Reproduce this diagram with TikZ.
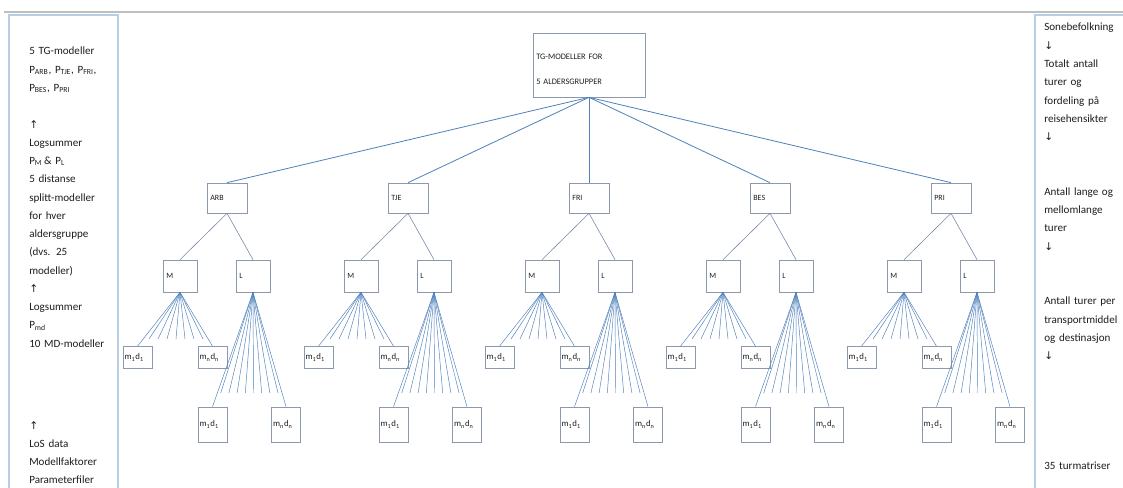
\documentclass[tikz,border=0pt]{standalone}
\usepackage{fontspec}
\setmainfont{Carlito}
\newfontfamily\arrfont{DejaVu Sans}
\definecolor{boxc}{RGB}{140,152,172}
\definecolor{topc}{RGB}{79,129,189}
\definecolor{midc}{RGB}{120,140,170}
\definecolor{fanc}{RGB}{79,129,189}
\definecolor{panelc}{RGB}{185,205,229}
\definecolor{hlinec}{RGB}{190,190,190}
\definecolor{txt}{RGB}{30,30,30}
\tikzset{
  box/.style={draw=boxc, line width=0.5pt, fill=white, inner xsep=2.5pt, inner ysep=0pt,
    align=left, font=\fontsize{6}{7}\selectfont, text=txt},
  lvlbox/.style={box, minimum width=30pt, text width=25pt, minimum height=22.5pt},
  mlbox/.style={box, minimum width=25.5pt, text width=20.5pt, minimum height=24pt},
  leafm/.style={box, inner xsep=1.2pt, font=\fontsize{6.6}{7}\selectfont, minimum width=21.75pt, text width=19.35pt, minimum height=16.5pt},
  leafl/.style={box, inner xsep=1.2pt, font=\fontsize{6.6}{7}\selectfont, minimum width=21.75pt, text width=19.35pt, minimum height=26.25pt},
  topconn/.style={draw=topc, line width=0.6pt},
  midconn/.style={draw=midc, line width=0.45pt},
  fan/.style={draw=fanc, line width=0.35pt},
  panel/.style={draw=panelc, line width=1.3pt},
  paneltext/.style={inner sep=0pt, anchor=base west, align=left, text=txt,
    font=\fontsize{8.3}{13.7}\selectfont},
}
\newcommand{\upar}{{\arrfont\fontsize{8}{13.7}\selectfont ↑}}
\newcommand{\dnar}{{\arrfont\fontsize{8}{13.7}\selectfont ↓}}
\begin{document}
\begin{tikzpicture}[x=0.75pt,y=-0.75pt]
\useasboundingbox (0,0) rectangle (1123,488);
\fill[white] (0,0) rectangle (1123,488);
% top gray line and side panels
\coordinate (hl1) at (4,12);
\coordinate (hl2) at (1123,12);
\draw[draw=hlinec, line width=1.2pt] (hl1) -- (hl2);
\coordinate (lp1) at (9,500);
\coordinate (lp2) at (9,15);
\coordinate (lp3) at (118,15);
\coordinate (lp4) at (118,500);
\draw[panel] (lp1) -- (lp2) -- (lp3) -- (lp4);
\coordinate (rp1) at (1035,500);
\coordinate (rp2) at (1035,15);
\coordinate (rp3) at (1130,15);
\draw[panel] (rp1) -- (rp2) -- (rp3);
% left panel text
\node[paneltext, text width=70pt] (ltxt1) at (29,55) {5 TG-modeller\\
P\textsubscript{ARB}, P\textsubscript{TJE}, P\textsubscript{FRI},\\
P\textsubscript{BES}, P\textsubscript{PRI}\\
~\\
\upar\\
Logsummer\\
P\textsubscript{M}\,\& P\textsubscript{L}\\
5 distanse\\
splitt-modeller\\
for hver\\
aldersgruppe\\
(dvs. 25\\
modeller)\\
\upar\\
Logsummer\\
P\textsubscript{md}\\
10 MD-modeller};
\node[paneltext, text width=70pt] (ltxt2) at (29,429) {\upar\\
LoS data\\
Modellfaktorer\\
Parameterfiler};
% right panel text
\node[paneltext, text width=75pt] (rtxt) at (1044,31) {Sonebefolkning\\
\dnar\\
Totalt antall\\
turer og\\
fordeling på\\
reisehensikter\\
\dnar\\
~\\
~\\
Antall lange og\\
mellomlange\\
turer\\
\dnar\\
~\\
~\\
Antall turer per\\
transportmiddel\\
og destinasjon\\
\dnar\\
~\\
~\\
~\\
~\\
~\\
35 turmatriser};
% top box
\node[box, font=\fontsize{6.3}{18.75}\selectfont, minimum width=84pt, text width=79pt, minimum height=48pt] (top) at (589,65)
  {\rule{0pt}{10pt}TG-MODELLER FOR\\5 ALDERSGRUPPER};
% groups
\foreach \k/\lab in {0/ARB,1/TJE,2/FRI,3/BES,4/PRI}{
  \pgfmathsetmacro{\dx}{181*\k}
  \node[lvlbox] (a\k) at ({227+\dx},198) {\lab};
  \node[mlbox] (m\k) at ({180+\dx},276) {M};
  \node[mlbox] (l\k) at ({253+\dx},276) {L};
  \node[leafm] (ma\k) at ({137.5+\dx},357.5) {m\textsubscript{1}d\textsubscript{1}};
  \node[leafm] (mb\k) at ({212.5+\dx},357.5) {m\textsubscript{n}d\textsubscript{n}};
  \node[leafl] (la\k) at ({212.5+\dx},424.5) {m\textsubscript{1}d\textsubscript{1}};
  \node[leafl] (lb\k) at ({286+\dx},424.5) {m\textsubscript{n}d\textsubscript{n}};
  \draw[topconn] (top.south) -- (a\k.north);
  \draw[midconn] (a\k.south) -- (m\k.north);
  \draw[midconn] (a\k.south) -- (l\k.north);
  \draw[fan] (m\k.south) -- (ma\k.north);
  \draw[fan] (m\k.south) -- (mb\k.north);
  \foreach \j in {1,...,7}{
    \coordinate (mf\k-\j) at ({140+\dx+9*\j},339);
    \draw[fan] (m\k.south) -- (mf\k-\j);
  }
  \draw[fan] (l\k.south) -- (la\k.north);
  \draw[fan] (l\k.south) -- (lb\k.north);
  \foreach \j in {1,...,8}{
    \coordinate (lf\k-\j) at ({212.5+\dx+8.2*\j},393);
    \draw[fan] (l\k.south) -- (lf\k-\j);
  }
}
\end{tikzpicture}
\end{document}
